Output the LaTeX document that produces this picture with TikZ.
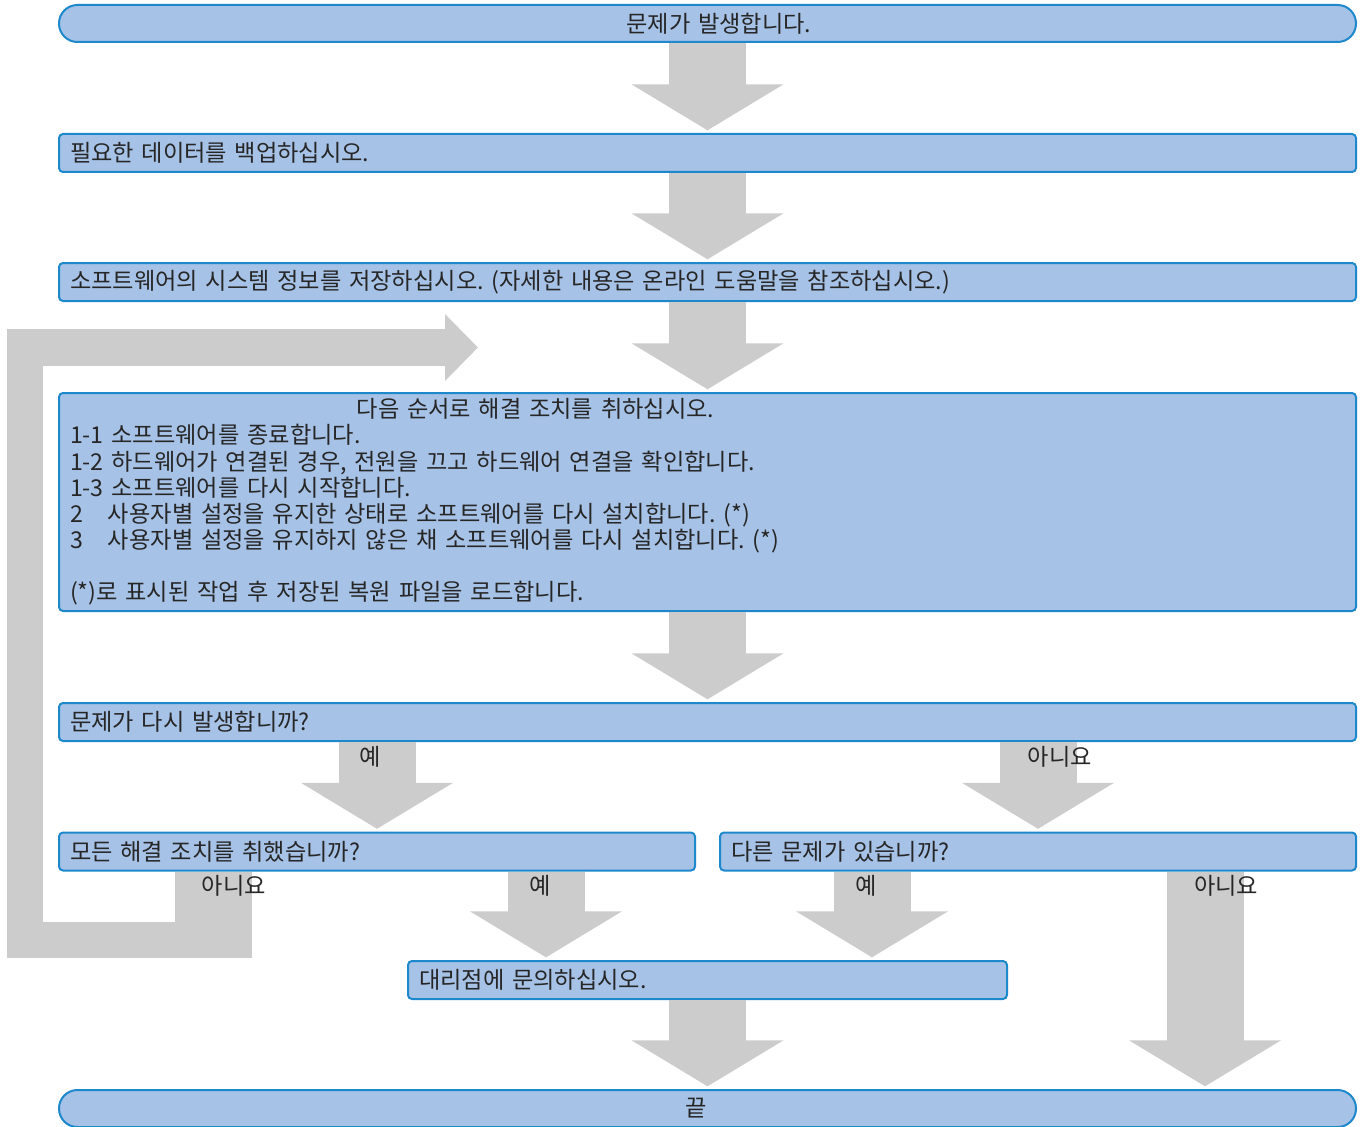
\documentclass[tikz,border=0pt]{standalone}
\usepackage{fontspec}
\setmainfont{Noto Sans CJK KR}
\usetikzlibrary{arrows.meta}
\frenchspacing

\definecolor{boxfill}{HTML}{A6C2E6}
\definecolor{boxline}{HTML}{1E88CC}
\definecolor{arrowgray}{HTML}{CCCCCC}
\definecolor{txt}{HTML}{262626}

\begin{document}
\begin{tikzpicture}[x=0.75pt,y=-0.75pt,
  box/.style={draw=boxline, fill=boxfill, line width=1.5pt, rounded corners=3pt,
    minimum height=28.5pt, inner xsep=8.25pt, inner ysep=0pt, text=txt,
    font=\fontsize{17.4}{19.6}\selectfont},
  wide/.style={box, minimum width=972.75pt, text width=956.25pt, align=left},
  half/.style={box, minimum width=477pt, text width=460.5pt, align=left},
  terminal/.style={box, rounded corners=13.8pt, minimum height=27.75pt,
    minimum width=972.75pt, text width=956.25pt, align=center},
  flow/.style={draw=arrowgray, line width=57.75pt,
    -{Triangle[width=112.5pt,length=34.5pt]}, shorten >=2pt},
  loopflow/.style={draw=arrowgray, line width=27.4pt, line join=miter,
    -{Triangle[width=48.75pt,length=24.75pt]}},
  lbl/.style={text=txt, font=\fontsize{17.4}{19.6}\selectfont}]

\useasboundingbox (0,0) rectangle (1366,1127);

% Boxes
\node[terminal] (start) at (707.5,23.5) {\hspace*{17pt}문제가 발생합니다.};
\node[wide] (backup) at (707.5,153) {필요한 데이터를 백업하십시오.};
\node[wide] (sysinfo) at (707.5,282)
  {소프트웨어의 시스템 정보를 저장하십시오. (자세한 내용은 온라인 도움말을 참조하십시오.)};
\node[wide, minimum height=163.5pt] (steps) at (707.5,502) {%
  \hspace*{215pt}다음 순서로 해결 조치를 취하십시오.\\
  1-1 소프트웨어를 종료합니다.\\
  1-2 하드웨어가 연결된 경우, 전원을 끄고 하드웨어 연결을 확인합니다.\\
  1-3 소프트웨어를 다시 시작합니다.\\
  \makebox[28.5pt][l]{2}사용자별 설정을 유지한 상태로 소프트웨어를 다시 설치합니다. (*)\\
  \makebox[28.5pt][l]{3}사용자별 설정을 유지하지 않은 채 소프트웨어를 다시 설치합니다. (*)\\
  \mbox{}\\
  (*)로 표시된 작업 후 저장된 복원 파일을 로드합니다.};
\node[wide] (again) at (707.5,722) {문제가 다시 발생합니까?};
\node[half] (allsteps) at (377,851.5) {모든 해결 조치를 취했습니까?};
\node[half] (other) at (1038,851.5) {다른 문제가 있습니까?};
\node[box, minimum width=449.25pt, text width=432.75pt, align=left] (dealer)
  at (707.5,980) {대리점에 문의하십시오.};
\node[terminal] (finish) at (707.5,1108.5) {끝\hspace*{17pt}};

% Main flow
\draw[flow] (start.south) -- (backup.north);
\draw[flow] (backup.south) -- (sysinfo.north);
\draw[flow] (sysinfo.south) -- (steps.north);
\draw[flow] (steps.south) -- (again.north);
\draw[flow] (again.south -| allsteps.north) -- (allsteps.north);
\draw[flow] (again.south -| other.north) -- (other.north);

% Branches to the dealer and the end
\coordinate (ayes) at (546,0);
\coordinate (oyes) at (872,0);
\coordinate (ono) at (1205,0);
\draw[flow] (allsteps.south -| ayes) -- (dealer.north -| ayes);
\draw[flow] (other.south -| oyes) -- (dealer.north -| oyes);
\draw[flow] (other.south -| ono) -- (finish.north -| ono);
\draw[flow] (dealer.south) -- (finish.north);

% Loop back to the steps
\coordinate (back) at (213.5,958);
\coordinate (loopend) at (478,347.5);
\draw[draw=arrowgray, line width=57.75pt] (allsteps.south -| back) -- (back);
\draw[loopflow] (213.5,940) -- (25,940) -- (25,347.5) -- (loopend);

% Labels
\node[lbl] (l1) at (370,757) {예};
\node[lbl] (l2) at (1060,757) {아니요};
\node[lbl] (l3) at (234,886) {아니요};
\node[lbl] (l4) at (540,886) {예};
\node[lbl] (l5) at (866,886) {예};
\node[lbl] (l6) at (1226,886) {아니요};
\end{tikzpicture}
\end{document}
